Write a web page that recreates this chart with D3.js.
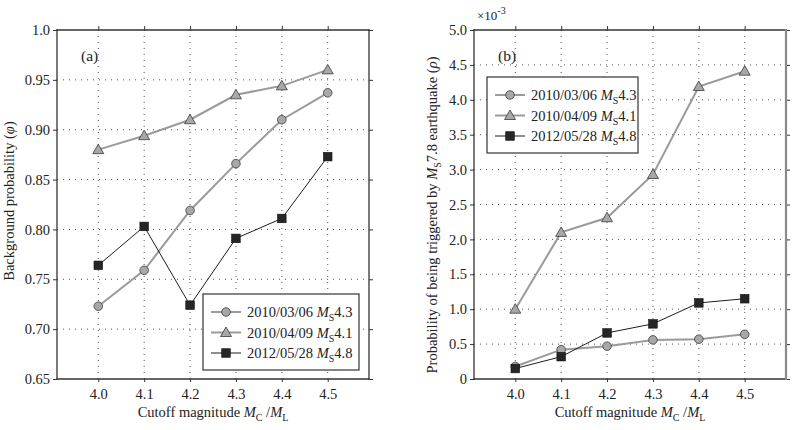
<!DOCTYPE html>
<html lang="en">
  <head>
    <meta charset="UTF-8" />
    <title>Background and triggered probability</title>
    <style>
      body { margin: 0; background: #fff; }
      svg, svg text { font-family: "Liberation Serif", "Times New Roman", "DejaVu Serif", serif !important; }
    </style>
  </head>
  <body>
    <svg id="chart"></svg>
    <script src="https://d3js.org/d3.v7.min.js"></script>
    <script>
      // data
      const magnitudes = [4.0, 4.1, 4.2, 4.3, 4.4, 4.5];
      const seriesNames = ['2010/03/06', '2010/04/09', '2012/05/28'];
      const seriesMs = ['4.3', '4.1', '4.8'];
      const seriesShapes = ['circle', 'triangle', 'square'];

      // panel (a): background probability
      const bg20100306 = [0.723, 0.759, 0.819, 0.866, 0.910, 0.937];
      const bg20100409 = [0.880, 0.894, 0.910, 0.935, 0.944, 0.960];
      const bg20120528 = [0.764, 0.803, 0.724, 0.791, 0.811, 0.873];
      const bgTicks = [0.65, 0.70, 0.75, 0.80, 0.85, 0.90, 0.95, 1.0];
      const bgTickLabels = ['0.65', '0.70', '0.75', '0.80', '0.85', '0.90', '0.95', '1.0'];

      // panel (b): triggered probability (x 10^-3)
      const tr20100306 = [0.18, 0.42, 0.47, 0.56, 0.57, 0.64];
      const tr20100409 = [1.0, 2.1, 2.31, 2.93, 4.19, 4.41];
      const tr20120528 = [0.15, 0.32, 0.66, 0.79, 1.09, 1.15];
      const trTicks = [0, 0.5, 1.0, 1.5, 2.0, 2.5, 3.0, 3.5, 4.0, 4.5, 5.0];
      const trTickLabels = ['0', '0.5', '1.0', '1.5', '2.0', '2.5', '3.0', '3.5', '4.0', '4.5', '5.0'];

      const width = 797;
      const height = 430;
      const svg = d3.select('#chart').attr('width', width).attr('height', height);

      const styles = [
        { line: '#9a9a9a', lineWidth: 2, fill: '#a8a8a8', stroke: '#3a3a3a' },
        { line: '#9a9a9a', lineWidth: 2, fill: '#a8a8a8', stroke: '#3a3a3a' },
        { line: '#1e1e1e', lineWidth: 1, fill: '#262626', stroke: '#111' },
      ];

      function drawMarker(g, shape, x, y, st) {
        if (shape === 'circle') {
          g.append('circle').attr('cx', x).attr('cy', y).attr('r', 4.3)
            .attr('fill', st.fill).attr('stroke', st.stroke).attr('stroke-width', 0.8);
        } else if (shape === 'triangle') {
          g.append('path')
            .attr('d', `M${x},${y - 5.5}L${x + 5.5},${y + 4}L${x - 5.5},${y + 4}Z`)
            .attr('fill', st.fill).attr('stroke', st.stroke).attr('stroke-width', 0.8);
        } else {
          g.append('rect').attr('x', x - 4.3).attr('y', y - 4.3).attr('width', 8.6).attr('height', 8.6)
            .attr('fill', st.fill).attr('stroke', st.stroke).attr('stroke-width', 0.6);
        }
      }

      function msLabel(text, date, ms, x, y) {
        let t = text.append('text').attr('x', x).attr('y', y).attr('font-size', 14.5).attr('fill', '#222');
        t.append('tspan').text(date + ' ');
        t.append('tspan').attr('font-style', 'italic').text('M');
        t.append('tspan').attr('font-size', 10).attr('dy', 4).text('S');
        t.append('tspan').attr('dy', -4).text(ms);
      }

      function drawPanel(cfg) {
        let { x0, x1, y0, y1, yDomain, yTicks, yLabels, series, legend, tag, rightColor } = cfg;
        let xScale = d3.scaleLinear().domain([3.91, 4.59]).range([x0, x1]);
        let yScale = d3.scaleLinear().domain(yDomain).range([y1, y0]);
        let g = svg.append('g');

        // dotted grid
        g.selectAll('.vgrid').data(magnitudes).enter().append('line')
          .attr('x1', (d) => xScale(d)).attr('x2', (d) => xScale(d))
          .attr('y1', y0).attr('y2', y1)
          .attr('stroke', '#444').attr('stroke-width', 0.9).attr('stroke-dasharray', '1,5');
        g.selectAll('.hgrid').data(yTicks.slice(1, -1)).enter().append('line')
          .attr('x1', x0).attr('x2', x1)
          .attr('y1', (d) => yScale(d)).attr('y2', (d) => yScale(d))
          .attr('stroke', '#444').attr('stroke-width', 0.9).attr('stroke-dasharray', '1,5');

        // axes with short outward ticks on all sides
        let fmtY = (d) => yLabels[yTicks.indexOf(d)];
        let axisStyle = (sel) => {
          sel.attr('font-family', null);
          sel.select('.domain').remove();
          sel.selectAll('line').attr('stroke', '#333');
          sel.selectAll('text').attr('font-size', 14.5).attr('fill', '#222');
        };
        g.append('g').attr('transform', `translate(${x0},0)`)
          .call(d3.axisLeft(yScale).tickValues(yTicks).tickFormat(fmtY).tickSizeInner(4).tickPadding(3))
          .call(axisStyle);
        g.append('g').attr('transform', `translate(${x1},0)`)
          .call(d3.axisRight(yScale).tickValues(yTicks).tickFormat('').tickSizeInner(4))
          .call(axisStyle);
        g.append('g').attr('transform', `translate(0,${y1})`)
          .call(d3.axisBottom(xScale).tickValues(magnitudes).tickFormat(d3.format('.1f')).tickSizeInner(3).tickPadding(7))
          .call(axisStyle);
        g.append('g').attr('transform', `translate(0,${y0})`)
          .call(d3.axisTop(xScale).tickValues(magnitudes).tickFormat('').tickSizeInner(4))
          .call(axisStyle);

        // frame
        let frame = [
          [x0, y0, x1, y0, '#333', 1.3],
          [x0, y1, x1, y1, '#333', 1.3],
          [x0, y0, x0, y1, '#333', 1.3],
          [x1, y0, x1, y1, rightColor, rightColor === '#333' ? 1.3 : 2.2],
        ];
        g.selectAll('.frame').data(frame).enter().append('line')
          .attr('x1', (d) => d[0]).attr('y1', (d) => d[1]).attr('x2', (d) => d[2]).attr('y2', (d) => d[3])
          .attr('stroke', (d) => d[4]).attr('stroke-width', (d) => d[5]).attr('stroke-linecap', 'square');

        // series
        let line = d3.line().x((d, i) => xScale(magnitudes[i])).y((d) => yScale(d));
        series.forEach((vals, k) => {
          let st = styles[k];
          g.append('path').datum(vals).attr('d', line).attr('fill', 'none')
            .attr('stroke', st.line).attr('stroke-width', st.lineWidth);
        });
        series.forEach((vals, k) => {
          vals.forEach((v, i) => drawMarker(g, seriesShapes[k], xScale(magnitudes[i]), yScale(v), styles[k]));
        });

        // panel tag
        g.append('text').attr('x', x0 + 24).attr('y', y0 + 31).attr('font-size', 15.5).attr('fill', '#222').text(tag);

        // legend
        let lg = g.append('g');
        lg.append('rect').attr('x', legend.x).attr('y', legend.y).attr('width', legend.w).attr('height', legend.h)
          .attr('fill', '#fff').attr('stroke', '#333').attr('stroke-width', 1.2);
        seriesNames.forEach((name, k) => {
          let yy = legend.y + 18 + k * 20.5;
          let st = styles[k];
          lg.append('line').attr('x1', legend.x + 8).attr('x2', legend.x + 38).attr('y1', yy).attr('y2', yy)
            .attr('stroke', st.line).attr('stroke-width', st.lineWidth);
          drawMarker(lg, seriesShapes[k], legend.x + 23, yy, st);
          msLabel(lg, name, seriesMs[k], legend.x + 44, yy + 5);
        });

        // x title
        let xt = g.append('text').attr('x', (x0 + x1) / 2).attr('y', 417).attr('text-anchor', 'middle')
          .attr('font-size', 14.5).attr('fill', '#222');
        xt.append('tspan').text('Cutoff magnitude ');
        xt.append('tspan').attr('font-style', 'italic').text('M');
        xt.append('tspan').attr('font-size', 10).attr('dy', 4).text('C');
        xt.append('tspan').attr('dy', -4).text(' /');
        xt.append('tspan').attr('font-style', 'italic').text('M');
        xt.append('tspan').attr('font-size', 10).attr('dy', 4).text('L');

        return { xScale, yScale };
      }

      drawPanel({
        x0: 57, x1: 369, y0: 30, y1: 379,
        yDomain: [0.65, 1.0], yTicks: bgTicks, yLabels: bgTickLabels,
        series: [bg20100306, bg20100409, bg20120528],
        legend: { x: 203, y: 294, w: 156, h: 76 },
        tag: '(a)', rightColor: '#333',
      });

      drawPanel({
        x0: 474, x1: 786, y0: 30, y1: 379,
        yDomain: [0, 5.0], yTicks: trTicks, yLabels: trTickLabels,
        series: [tr20100306, tr20100409, tr20120528],
        legend: { x: 487, y: 77, w: 151, h: 76 },
        tag: '(b)', rightColor: '#8a8a8a',
      });

      // y titles
      let ya = svg.append('text').attr('transform', 'translate(14,201) rotate(-90)')
        .attr('text-anchor', 'middle').attr('font-size', 14.5).attr('fill', '#222');
      ya.append('tspan').text('Background probability (');
      ya.append('tspan').attr('font-style', 'italic').text('φ');
      ya.append('tspan').text(')');

      let yb = svg.append('text').attr('transform', 'translate(437,215) rotate(-90)')
        .attr('text-anchor', 'middle').attr('font-size', 14.5).attr('fill', '#222');
      yb.append('tspan').text('Probability of being triggered by ');
      yb.append('tspan').attr('font-style', 'italic').text('M');
      yb.append('tspan').attr('font-size', 10).attr('dy', 4).text('S');
      yb.append('tspan').attr('dy', -4).text('7.8 earthquake (');
      yb.append('tspan').attr('font-style', 'italic').text('ρ');
      yb.append('tspan').text(')');

      // exponent label
      let ex = svg.append('text').attr('x', 477).attr('y', 20).attr('font-size', 13).attr('fill', '#222');
      ex.append('tspan').text('×10');
      ex.append('tspan').attr('font-size', 10).attr('dy', -6).text('-3');
    </script>
  </body>
</html>
